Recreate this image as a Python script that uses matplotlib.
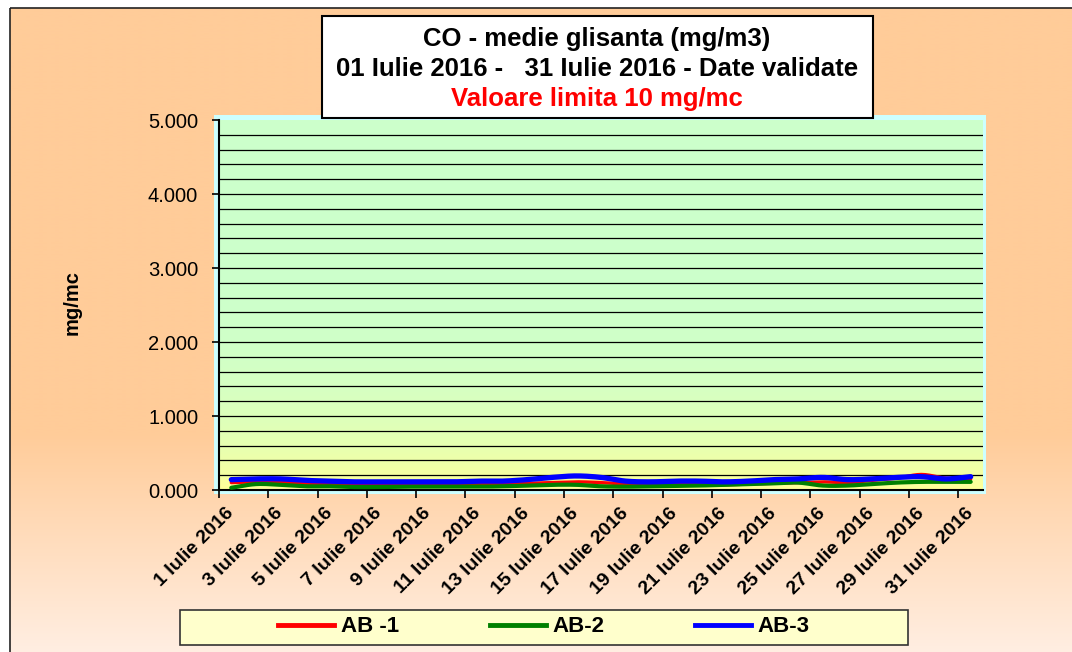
import numpy as np
import matplotlib
matplotlib.use("Agg")
import matplotlib.pyplot as plt
from matplotlib.patches import Rectangle
from matplotlib.lines import Line2D
from matplotlib.colors import to_rgb

# daily values, July 2016 (mg/mc)
days = list(range(1, 32))
ab1 = [0.10, 0.11, 0.10, 0.09, 0.08, 0.07, 0.07, 0.07, 0.07, 0.07, 0.08,
       0.08, 0.09, 0.10, 0.11, 0.10, 0.08, 0.07, 0.08, 0.08, 0.07, 0.08,
       0.09, 0.10, 0.11, 0.10, 0.13, 0.16, 0.21, 0.16, 0.15]
ab2 = [0.03, 0.08, 0.07, 0.05, 0.05, 0.04, 0.04, 0.045, 0.045, 0.045, 0.045,
       0.05, 0.06, 0.07, 0.07, 0.05, 0.045, 0.05, 0.055, 0.06, 0.07, 0.08,
       0.09, 0.10, 0.06, 0.06, 0.08, 0.10, 0.11, 0.11, 0.11]
ab3 = [0.14, 0.15, 0.15, 0.13, 0.12, 0.11, 0.11, 0.11, 0.11, 0.11, 0.12,
       0.12, 0.14, 0.17, 0.19, 0.17, 0.12, 0.11, 0.12, 0.12, 0.11, 0.12,
       0.14, 0.15, 0.17, 0.14, 0.15, 0.17, 0.18, 0.15, 0.18]

series_names = ["AB -1", "AB-2", "AB-3"]
series_colors = ["#FF0000", "#008000", "#0000FF"]
series_widths = [2.4, 3.0, 3.8]

tick_days = days[::2]
tick_labels = [f"{d} Iulie 2016" for d in tick_days]
y_ticks = [0, 1, 2, 3, 4, 5]
grid_values = np.arange(0.2, 4.9, 0.2)

title_lines = ["CO - medie glisanta (mg/m3)",
               "01 Iulie 2016 -   31 Iulie 2016 - Date validate"]
limit_text = "Valoare limita 10 mg/mc"
y_label = "mg/mc"

W, H = 1072, 652
plt.rcParams['font.family'] = ['Liberation Sans', 'DejaVu Sans']


def smooth(x, y, n=12):
    # catmull-rom curve through the points, close to Excel's smoothed line
    x = np.asarray(x, float)
    y = np.asarray(y, float)
    px = np.concatenate([[2 * x[0] - x[1]], x, [2 * x[-1] - x[-2]]])
    py = np.concatenate([[2 * y[0] - y[1]], y, [2 * y[-1] - y[-2]]])
    t = np.linspace(0, 1, n, endpoint=False)
    xs, ys = [], []
    for i in range(len(x) - 1):
        for p, out in ((px, xs), (py, ys)):
            p0, p1, p2, p3 = p[i], p[i + 1], p[i + 2], p[i + 3]
            out.append(0.5 * (2 * p1 + (-p0 + p2) * t
                              + (2 * p0 - 5 * p1 + 4 * p2 - p3) * t ** 2
                              + (-p0 + 3 * p1 - 3 * p2 + p3) * t ** 3))
    xs.append([x[-1]])
    ys.append([y[-1]])
    return np.concatenate(xs), np.concatenate(ys)


fig = plt.figure(figsize=(W / 100, H / 100), dpi=100)
fig.patch.set_facecolor("white")

# background layer in pixel coordinates
bg = fig.add_axes([0, 0, 1, 1])
rows = np.arange(H)
t = np.clip((rows - 430) / (H - 430), 0, 1)[:, None]
peach = np.array(to_rgb("#FFCC99"))
light = np.array(to_rgb("#FFEEE2"))
grad = (peach * (1 - t) + light * t)[:, None, :]
bg.imshow(grad, extent=(10, W, H, 8), aspect="auto", interpolation="bilinear")
bg.add_patch(Rectangle((10, 8), W, H, fill=False, edgecolor="#222222", lw=1.2))
bg.add_patch(Rectangle((214, 115), 772, 379, facecolor="#CCFFFF", edgecolor="none"))
bg.add_patch(Rectangle((322, 16), 551, 102, facecolor="white", edgecolor="black", lw=1.5))
bg.text(597, 39, title_lines[0], ha="center", va="center", fontsize=18.5, fontweight="bold")
bg.text(597, 69, title_lines[1], ha="center", va="center", fontsize=18.5, fontweight="bold")
bg.text(597, 99, limit_text, ha="center", va="center", fontsize=18.5, fontweight="bold",
        color="#FF0000")
bg.add_patch(Rectangle((180, 610), 728, 35, facecolor="#FFFFCC", edgecolor="#333333", lw=1.2))
bg.text(72, 303, y_label, rotation=90, ha="center", va="center", fontsize=14.5,
        fontweight="bold")
bg.set_xlim(0, W)
bg.set_ylim(H, 0)
bg.axis("off")

# plot area
ax = fig.add_axes([219 / W, (H - 490) / H, (983 - 219) / W, 370 / H])
f = np.linspace(0, 1, 200)[:, None] ** 5
green = np.array(to_rgb("#CCFFCC"))
yellow = np.array(to_rgb("#FFFF99"))
area = (green * (1 - f) + yellow * f)[:, None, :]
ax.imshow(area, extent=(-0.5, 30.5, 0, 5), aspect="auto", zorder=0)
for v in grid_values:
    ax.axhline(v, color="black", lw=0.9, zorder=1)

x = np.arange(len(days))
for vals, name, col, lw in zip([ab1, ab2, ab3], series_names, series_colors, series_widths):
    sx, sy = smooth(x, vals)
    ax.plot(sx, sy, color=col, lw=lw, solid_capstyle="round", zorder=3)

ax.set_xlim(-0.5, 30.5)
ax.set_ylim(0, 5)
ax.set_yticks(y_ticks)
ax.set_yticklabels([f"{v:.3f}" for v in y_ticks], fontsize=14.5)
ax.tick_params(axis="y", length=5, width=1.2, direction="out", pad=10)

ax.set_xticks(x[::2])
ax.set_xticklabels(tick_labels, rotation=45, ha="right", va="center",
                   rotation_mode="anchor", fontsize=14, fontweight="bold")
ax.set_xticks(np.arange(-0.5, 30, 2), minor=True)
ax.tick_params(axis="x", which="major", length=0, pad=15)
ax.tick_params(axis="x", which="minor", length=6, width=1.2, direction="out")

for side in ("top", "right"):
    ax.spines[side].set_visible(False)
for side in ("left", "bottom"):
    ax.spines[side].set_linewidth(1.5)
    ax.spines[side].set_color("black")

handles = [Line2D([], [], color=c, lw=3.5) for c in series_colors]
fig.legend(handles, series_names, loc="center", bbox_to_anchor=(544 / W, 1 - 627 / H),
           ncol=3, frameon=False, prop={"size": 16, "weight": "bold"},
           handlelength=2.5, handletextpad=0.3, columnspacing=4.1)

fig.savefig("out.png", dpi=100)
